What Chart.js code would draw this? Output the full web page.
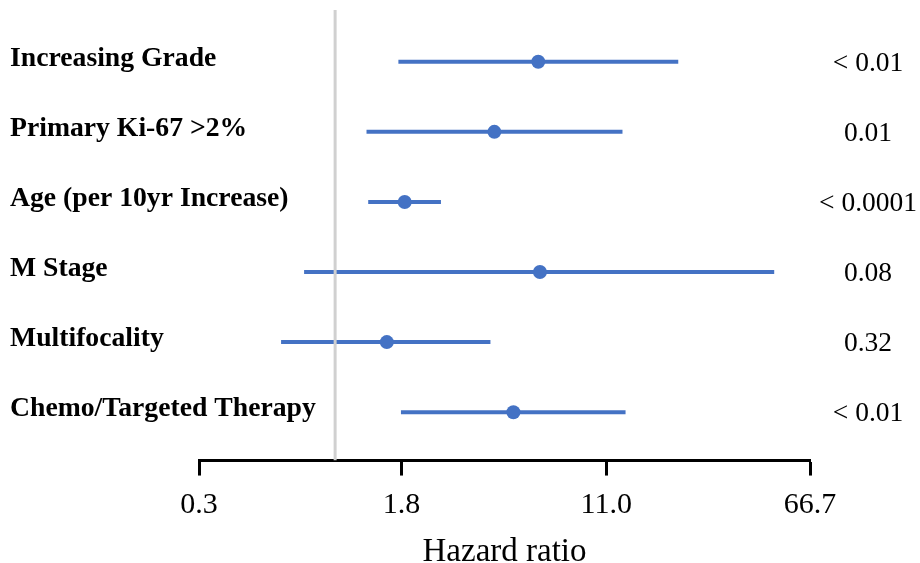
<!DOCTYPE html>
<html>
<head>
<meta charset="utf-8">
<script src="https://cdn.jsdelivr.net/npm/chart.js@4/dist/chart.umd.min.js"></script>
<style>
  html, body { margin: 0; padding: 0; background: #fff; }
  #wrap { width: 920px; height: 563px; }
</style>
</head>
<body>
<div id="wrap"><canvas id="forest" width="920" height="563"></canvas></div>
<script>
// Covariates of the multivariable model, top to bottom
const factors = [
  'Increasing Grade',
  'Primary Ki-67 >2%',
  'Age (per 10yr Increase)',
  'M Stage',
  'Multifocality',
  'Chemo/Targeted Therapy'
];
// Hazard ratio estimates with 95% confidence limits
const hazardRatio = [6.03, 4.09, 1.85, 6.12, 1.58, 4.84];
const ciLower     = [1.75, 1.32, 1.34, 0.76, 0.62, 1.79];
const ciUpper     = [20.8, 12.7, 2.55, 48.6, 3.95, 13.05];
const pValues     = ['< 0.01', '0.01', '< 0.0001', '0.08', '0.32', '< 0.01'];
// Log-axis tick values
const xTicks = [0.3, 1.8, 11.0, 66.7];
const nullValue = 1;

const BLUE = '#4472C4';
const SERIF = '"Liberation Serif", "Times New Roman", serif';

const yMin = -0.739, yMax = 5.69;

const ciSets = factors.map((f, i) => ({
  label: f,
  data: [{ x: ciLower[i], y: i }, { x: ciUpper[i], y: i }],
  showLine: true,
  borderColor: BLUE,
  borderWidth: 4,
  pointRadius: 0,
  order: 2
}));

const estimateSet = {
  label: 'Hazard ratio',
  data: hazardRatio.map((v, i) => ({ x: v, y: i })),
  showLine: false,
  pointRadius: 7,
  pointBackgroundColor: BLUE,
  pointBorderColor: BLUE,
  pointBorderWidth: 0,
  order: 1
};

const nullSet = {
  label: 'HR = 1',
  data: [{ x: nullValue, y: yMin }, { x: nullValue, y: yMax }],
  showLine: true,
  borderColor: '#d0d0d0',
  borderWidth: 3,
  pointRadius: 0,
  order: 0
};

// Row labels on the left, p-values on the right
const rowText = {
  id: 'rowText',
  afterDraw(chart) {
    const ctx = chart.ctx;
    const y = chart.scales.y;
    ctx.save();
    ctx.fillStyle = '#000';
    ctx.textBaseline = 'middle';
    factors.forEach((f, i) => {
      const py = y.getPixelForValue(i);
      ctx.font = 'bold 27.7px ' + SERIF;
      ctx.textAlign = 'left';
      ctx.fillText(f, 10, py - 3);
      ctx.font = '27.5px ' + SERIF;
      ctx.textAlign = 'center';
      ctx.fillText(pValues[i], 868, py + 2);
    });
    ctx.restore();
  }
};

new Chart(document.getElementById('forest'), {
  type: 'scatter',
  data: { datasets: [nullSet, estimateSet, ...ciSets] },
  options: {
    responsive: false,
    animation: false,
    events: [],
    layout: { padding: { left: 199, right: 110, top: 10, bottom: 0 } },
    plugins: { legend: { display: false }, tooltip: { enabled: false } },
    scales: {
      x: {
        type: 'logarithmic',
        min: 0.3,
        max: 66.7,
        afterBuildTicks(scale) { scale.ticks = xTicks.map(v => ({ value: v })); },
        ticks: {
          color: '#000',
          font: { family: SERIF, size: 30 },
          padding: 12,
          maxRotation: 0,
          autoSkip: false,
          callback: (v) => Number(v).toFixed(1)
        },
        grid: { display: true, drawOnChartArea: false, drawTicks: true, tickLength: 15, tickWidth: 3, tickColor: '#000' },
        border: { display: true, color: '#000', width: 3 },
        title: { display: true, text: 'Hazard ratio', color: '#000', font: { family: SERIF, size: 33, lineHeight: 0.65 }, padding: { top: 6, bottom: 0 } }
      },
      y: {
        type: 'linear',
        reverse: true,
        min: yMin,
        max: yMax,
        display: false
      }
    }
  },
  plugins: [rowText]
});
</script>
</body>
</html>
